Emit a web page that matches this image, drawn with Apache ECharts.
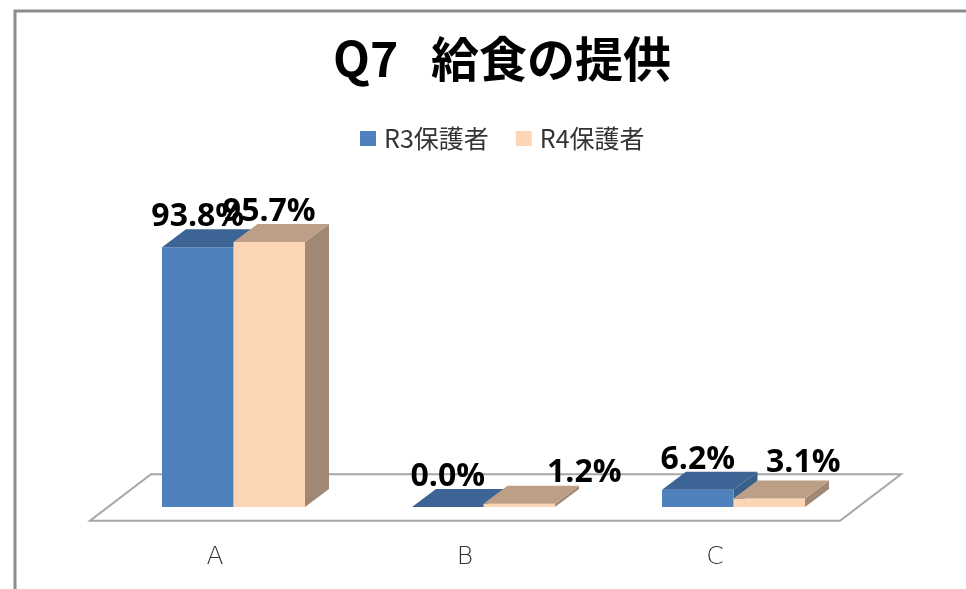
<!DOCTYPE html>
<html>
<head>
<meta charset="utf-8">
<style>
html, body { margin: 0; padding: 0; background: #fff; }
#chart { width: 966px; height: 589px; }
</style>
<script src="https://cdn.jsdelivr.net/npm/echarts@6/dist/echarts.min.js"></script>
</head>
<body>
<div id="chart"></div>
<script>
// 値は図から読み取り
var categories = ['A', 'B', 'C'];
var r3Values = [93.8, 0.0, 6.2];
var r4Values = [95.7, 1.2, 3.1];
var seriesNames = ['R3保護者', 'R4保護者'];

var barWidth = 71.5;
var depthX = 24, depthY = -18;     // 棒の奥行き
var floorX = 61, floorY = -46.5;   // 床の奥行き
var shiftX = 18.5, shiftY = -13.7; // 床の手前から棒の底面まで

var blue = { front: '#4f81bd', top: '#3c6494', side: '#3a5f8b' };
var peach = { front: '#fcd5b5', top: '#bd9f87', side: '#a18875' };

var chart = echarts.init(document.getElementById('chart'));

function poly(points, color) {
	return { type: 'polygon', shape: { points: points }, style: { fill: color } };
}

// 3D風の棒 side: -1 左の棒 / 0 右の棒
function barRenderer(colors, side, nudges) {
	return function (params, api) {
		var idx = api.value(0);
		var val = api.value(1);
		var base = api.coord([idx, 0]);
		var head = api.coord([idx, val]);
		var x0 = base[0] + shiftX + side * barWidth;
		var x1 = x0 + barWidth;
		var y0 = base[1] + shiftY;
		var y1 = head[1] + shiftY;
		var nudge = nudges[idx] || [0, 0];
		return {
			type: 'group',
			children: [
				poly([[x1, y0], [x1 + depthX, y0 + depthY], [x1 + depthX, y1 + depthY], [x1, y1]], colors.side),
				poly([[x0, y0], [x1, y0], [x1, y1], [x0, y1]], colors.front),
				poly([[x0, y1], [x1, y1], [x1 + depthX, y1 + depthY], [x0 + depthX, y1 + depthY]], colors.top),
				{
					type: 'text',
					z2: 100,
					style: {
						text: val.toFixed(1) + '%',
						x: (x0 + x1) / 2 + nudge[0],
						y: y1 - 30 + nudge[1],
						align: 'center',
						verticalAlign: 'middle',
						fill: '#000',
						font: 'bold 32px "Open Sans", "Noto Sans", sans-serif'
					}
				}
			]
		};
	};
}

var option = {
	animation: false,
	backgroundColor: '#fff',
	title: {
		text: 'Q7   給食の提供',
		left: 497,
		top: 30,
		textAlign: 'center',
		textStyle: {
			fontFamily: '"Noto Sans CJK JP", sans-serif',
			fontWeight: 'bold',
			fontSize: 48,
			color: '#000'
		}
	},
	legend: {
		data: seriesNames,
		left: 355,
		top: 121,
		icon: 'rect',
		itemWidth: 16,
		itemHeight: 15,
		itemGap: 27,
		textStyle: {
			fontFamily: '"Noto Sans CJK JP", sans-serif',
			fontSize: 25,
			color: '#333',
			padding: [0, 0, 0, 3]
		}
	},
	grid: { left: 90, right: 126, top: 243.7, bottom: 68.3 },
	xAxis: {
		type: 'category',
		data: categories,
		axisLine: { show: false },
		axisTick: { show: false },
		axisLabel: {
			margin: 24,
			fontFamily: '"DejaVu Sans", sans-serif',
			fontSize: 25,
			fontWeight: 200,
			color: '#333'
		}
	},
	yAxis: { type: 'value', min: 0, max: 100, show: false },
	graphic: [{
		type: 'polyline',
		silent: true,
		shape: { points: [[15, 600], [15, 11], [970, 11]] },
		style: { stroke: '#8c8c8c', lineWidth: 3, fill: null }
	}],
	series: [
		{
			// 床
			type: 'custom',
			silent: true,
			clip: false,
			z: 1,
			data: [0],
			renderItem: function (params, api) {
				var c = params.coordSys;
				var y = c.y + c.height;
				return {
					type: 'polygon',
					shape: { points: [[c.x, y], [c.x + c.width, y], [c.x + c.width + floorX, y + floorY], [c.x + floorX, y + floorY]] },
					style: { fill: '#fff', stroke: '#a6a6a6', lineWidth: 2 }
				};
			}
		},
		{
			name: seriesNames[0],
			type: 'custom',
			clip: false,
			itemStyle: { color: blue.front },
			encode: { x: 0, y: 1 },
			data: r3Values.map(function (v, i) { return [i, v]; }),
			renderItem: barRenderer(blue, -1, {})
		},
		{
			name: seriesNames[1],
			type: 'custom',
			clip: false,
			itemStyle: { color: peach.front },
			encode: { x: 0, y: 1 },
			data: r4Values.map(function (v, i) { return [i, v]; }),
			// B, C のラベルは元の図で右に寄せてある
			renderItem: barRenderer(peach, 0, { 1: [65, -1], 2: [34, -6] })
		}
	]
};

chart.setOption(option);
</script>
</body>
</html>
